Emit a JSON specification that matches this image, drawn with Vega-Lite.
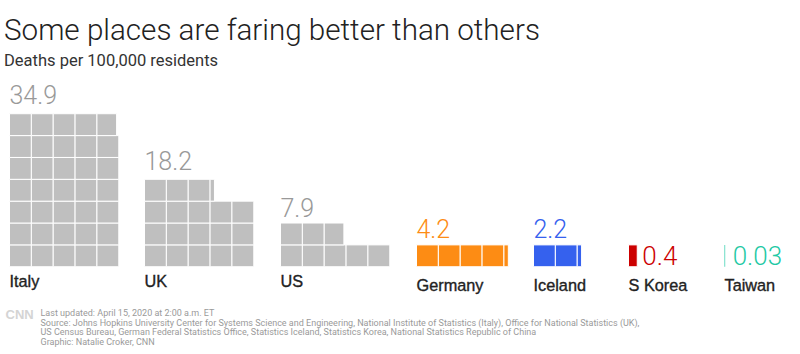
{
  "$schema": "https://vega.github.io/schema/vega-lite/v6.json",
  "background": "white",
  "padding": {"left": 3.5, "top": 15, "right": 0, "bottom": 0},
  "config": {"view": {"stroke": null}, "axis": {"disable": true}},
  "title": {
    "text": "Some places are faring better than others",
    "subtitle": "Deaths per 100,000 residents",
    "anchor": "start",
    "frame": "group",
    "font": "Roboto", "fontSize": 29.6, "fontWeight": 300, "color": "#222222",
    "subtitleFont": "Roboto", "subtitleFontSize": 16.5, "subtitleFontWeight": 400, "subtitleColor": "#333333",
    "subtitlePadding": 6, "offset": 0, "dx": -5.5
  },
  "datasets": {
    "cells": [
      {"country": "Italy", "row": 1, "col": 1, "share": 1}, {"country": "Italy", "row": 1, "col": 2, "share": 1}, {"country": "Italy", "row": 1, "col": 3, "share": 1}, {"country": "Italy", "row": 1, "col": 4, "share": 1}, {"country": "Italy", "row": 1, "col": 5, "share": 1},
      {"country": "Italy", "row": 2, "col": 1, "share": 1}, {"country": "Italy", "row": 2, "col": 2, "share": 1}, {"country": "Italy", "row": 2, "col": 3, "share": 1}, {"country": "Italy", "row": 2, "col": 4, "share": 1}, {"country": "Italy", "row": 2, "col": 5, "share": 1},
      {"country": "Italy", "row": 3, "col": 1, "share": 1}, {"country": "Italy", "row": 3, "col": 2, "share": 1}, {"country": "Italy", "row": 3, "col": 3, "share": 1}, {"country": "Italy", "row": 3, "col": 4, "share": 1}, {"country": "Italy", "row": 3, "col": 5, "share": 1},
      {"country": "Italy", "row": 4, "col": 1, "share": 1}, {"country": "Italy", "row": 4, "col": 2, "share": 1}, {"country": "Italy", "row": 4, "col": 3, "share": 1}, {"country": "Italy", "row": 4, "col": 4, "share": 1}, {"country": "Italy", "row": 4, "col": 5, "share": 1},
      {"country": "Italy", "row": 5, "col": 1, "share": 1}, {"country": "Italy", "row": 5, "col": 2, "share": 1}, {"country": "Italy", "row": 5, "col": 3, "share": 1}, {"country": "Italy", "row": 5, "col": 4, "share": 1}, {"country": "Italy", "row": 5, "col": 5, "share": 1},
      {"country": "Italy", "row": 6, "col": 1, "share": 1}, {"country": "Italy", "row": 6, "col": 2, "share": 1}, {"country": "Italy", "row": 6, "col": 3, "share": 1}, {"country": "Italy", "row": 6, "col": 4, "share": 1}, {"country": "Italy", "row": 6, "col": 5, "share": 1},
      {"country": "Italy", "row": 7, "col": 1, "share": 1}, {"country": "Italy", "row": 7, "col": 2, "share": 1}, {"country": "Italy", "row": 7, "col": 3, "share": 1}, {"country": "Italy", "row": 7, "col": 4, "share": 1}, {"country": "Italy", "row": 7, "col": 5, "share": 0.9},
      {"country": "UK", "row": 1, "col": 1, "share": 1}, {"country": "UK", "row": 1, "col": 2, "share": 1}, {"country": "UK", "row": 1, "col": 3, "share": 1}, {"country": "UK", "row": 1, "col": 4, "share": 1}, {"country": "UK", "row": 1, "col": 5, "share": 1},
      {"country": "UK", "row": 2, "col": 1, "share": 1}, {"country": "UK", "row": 2, "col": 2, "share": 1}, {"country": "UK", "row": 2, "col": 3, "share": 1}, {"country": "UK", "row": 2, "col": 4, "share": 1}, {"country": "UK", "row": 2, "col": 5, "share": 1},
      {"country": "UK", "row": 3, "col": 1, "share": 1}, {"country": "UK", "row": 3, "col": 2, "share": 1}, {"country": "UK", "row": 3, "col": 3, "share": 1}, {"country": "UK", "row": 3, "col": 4, "share": 1}, {"country": "UK", "row": 3, "col": 5, "share": 1},
      {"country": "UK", "row": 4, "col": 1, "share": 1}, {"country": "UK", "row": 4, "col": 2, "share": 1}, {"country": "UK", "row": 4, "col": 3, "share": 1}, {"country": "UK", "row": 4, "col": 4, "share": 0.2},
      {"country": "US", "row": 1, "col": 1, "share": 1}, {"country": "US", "row": 1, "col": 2, "share": 1}, {"country": "US", "row": 1, "col": 3, "share": 1}, {"country": "US", "row": 1, "col": 4, "share": 1}, {"country": "US", "row": 1, "col": 5, "share": 1},
      {"country": "US", "row": 2, "col": 1, "share": 1}, {"country": "US", "row": 2, "col": 2, "share": 1}, {"country": "US", "row": 2, "col": 3, "share": 0.9},
      {"country": "Germany", "row": 1, "col": 1, "share": 1}, {"country": "Germany", "row": 1, "col": 2, "share": 1}, {"country": "Germany", "row": 1, "col": 3, "share": 1}, {"country": "Germany", "row": 1, "col": 4, "share": 1}, {"country": "Germany", "row": 1, "col": 5, "share": 0.2},
      {"country": "Iceland", "row": 1, "col": 1, "share": 1}, {"country": "Iceland", "row": 1, "col": 2, "share": 1}, {"country": "Iceland", "row": 1, "col": 3, "share": 0.2},
      {"country": "S Korea", "row": 1, "col": 1, "share": 0.4},
      {"country": "Taiwan", "row": 1, "col": 1, "share": 0.03}
    ]
  },
  "vconcat": [
    {
      "title": {
        "text": [
          "Last updated: April 15, 2020 at 2:00 a.m. ET",
          "Source: Johns Hopkins University Center for Systems Science and Engineering, National Institute of Statistics (Italy), Office for National Statistics (UK),",
          "US Census Bureau, German Federal Statistics Office, Statistics Iceland, Statistics Korea, National Statistics Republic of China",
          "Graphic: Natalie Croker, CNN"
        ],
        "orient": "bottom", "anchor": "start", "frame": "group",
        "font": "Roboto", "fontSize": 9, "fontWeight": 400, "color": "#9a9a9a",
        "lineHeight": 9.8, "offset": -13, "dx": 31
      },
      "bounds": "flush",
      "spacing": 0,
      "resolve": {"scale": {"x": "independent", "y": "independent"}},
      "hconcat": [
        {
          "width": 135, "height": 196.74,
          "data": {"name": "cells"},
          "transform": [{"filter": "datum.country === 'Italy'"}],
          "layer": [
            {"mark": {"type": "bar", "color": "#bfbfbf", "stroke": "white", "strokeWidth": 1},
             "encoding": {
               "x": {"field": "share", "type": "quantitative", "stack": "zero", "scale": {"domain": [0, 6.1757], "nice": false}},
               "y": {"field": "row", "type": "ordinal", "scale": {"domain": [9, 8, 7, 6, 5, 4, 3, 2, 1], "paddingInner": 0, "paddingOuter": 0}},
               "detail": {"field": "col"}, "order": {"field": "col"}}},
            {"transform": [{"aggregate": [{"op": "max", "field": "row", "as": "row"}, {"op": "sum", "field": "share", "as": "value"}], "groupby": ["country"]}],
             "mark": {"type": "text", "align": "left", "baseline": "alphabetic", "dy": -20.6, "font": "Roboto", "fontWeight": 300, "fontSize": 25, "color": "#999999"},
             "encoding": {"x": {"datum": 0, "type": "quantitative"}, "y": {"field": "row", "type": "ordinal"}, "text": {"field": "value", "format": ".1f"}}},
            {"transform": [{"filter": "datum.row === 1 && datum.col === 1"}],
             "mark": {"type": "text", "align": "left", "baseline": "alphabetic", "dy": 31.5, "font": "Liberation Sans", "fontSize": 16.3, "color": "#222222", "stroke": "#222222", "strokeWidth": 0.35},
             "encoding": {"x": {"datum": 0, "type": "quantitative"}, "y": {"field": "row", "type": "ordinal"}, "text": {"field": "country"}}},
            {"transform": [{"filter": "datum.row === 1 && datum.col === 1"}],
             "mark": {"type": "text", "text": "CNN", "align": "left", "baseline": "alphabetic", "dy": 63, "font": "Liberation Sans", "fontWeight": "bold", "fontSize": 13, "color": "#d4d4d4"},
             "encoding": {"x": {"datum": -0.18, "type": "quantitative"}, "y": {"field": "row", "type": "ordinal"}}}
          ]
        },
        {
          "width": 136, "height": 196.74,
          "data": {"name": "cells"},
          "transform": [{"filter": "datum.country === 'UK'"}],
          "layer": [
            {"mark": {"type": "bar", "color": "#bfbfbf", "stroke": "white", "strokeWidth": 1},
             "encoding": {
               "x": {"field": "share", "type": "quantitative", "stack": "zero", "scale": {"domain": [0, 6.2214], "nice": false}},
               "y": {"field": "row", "type": "ordinal", "scale": {"domain": [9, 8, 7, 6, 5, 4, 3, 2, 1], "paddingInner": 0, "paddingOuter": 0}},
               "detail": {"field": "col"}, "order": {"field": "col"}}},
            {"transform": [{"aggregate": [{"op": "max", "field": "row", "as": "row"}, {"op": "sum", "field": "share", "as": "value"}], "groupby": ["country"]}],
             "mark": {"type": "text", "align": "left", "baseline": "alphabetic", "dy": -20.3, "font": "Roboto", "fontWeight": 300, "fontSize": 25, "color": "#999999"},
             "encoding": {"x": {"datum": 0, "type": "quantitative"}, "y": {"field": "row", "type": "ordinal"}, "text": {"field": "value", "format": ".1f"}}},
            {"transform": [{"filter": "datum.row === 1 && datum.col === 1"}],
             "mark": {"type": "text", "align": "left", "baseline": "alphabetic", "dy": 31.5, "font": "Liberation Sans", "fontSize": 16.3, "color": "#222222", "stroke": "#222222", "strokeWidth": 0.35},
             "encoding": {"x": {"datum": 0, "type": "quantitative"}, "y": {"field": "row", "type": "ordinal"}, "text": {"field": "country"}}}
          ]
        },
        {
          "width": 136, "height": 196.74,
          "data": {"name": "cells"},
          "transform": [{"filter": "datum.country === 'US'"}],
          "layer": [
            {"mark": {"type": "bar", "color": "#bfbfbf", "stroke": "white", "strokeWidth": 1},
             "encoding": {
               "x": {"field": "share", "type": "quantitative", "stack": "zero", "scale": {"domain": [0, 6.2214], "nice": false}},
               "y": {"field": "row", "type": "ordinal", "scale": {"domain": [9, 8, 7, 6, 5, 4, 3, 2, 1], "paddingInner": 0, "paddingOuter": 0}},
               "detail": {"field": "col"}, "order": {"field": "col"}}},
            {"transform": [{"aggregate": [{"op": "max", "field": "row", "as": "row"}, {"op": "sum", "field": "share", "as": "value"}], "groupby": ["country"]}],
             "mark": {"type": "text", "align": "left", "baseline": "alphabetic", "dy": -17.3, "font": "Roboto", "fontWeight": 300, "fontSize": 25, "color": "#999999"},
             "encoding": {"x": {"datum": 0, "type": "quantitative"}, "y": {"field": "row", "type": "ordinal"}, "text": {"field": "value", "format": ".1f"}}},
            {"transform": [{"filter": "datum.row === 1 && datum.col === 1"}],
             "mark": {"type": "text", "align": "left", "baseline": "alphabetic", "dy": 31.5, "font": "Liberation Sans", "fontSize": 16.3, "color": "#222222", "stroke": "#222222", "strokeWidth": 0.35},
             "encoding": {"x": {"datum": 0, "type": "quantitative"}, "y": {"field": "row", "type": "ordinal"}, "text": {"field": "country"}}}
          ]
        },
        {
          "width": 117, "height": 196.74,
          "data": {"name": "cells"},
          "transform": [{"filter": "datum.country === 'Germany'"}],
          "layer": [
            {"mark": {"type": "bar", "color": "#fd8c14", "stroke": "white", "strokeWidth": 1},
             "encoding": {
               "x": {"field": "share", "type": "quantitative", "stack": "zero", "scale": {"domain": [0, 5.3522], "nice": false}},
               "y": {"field": "row", "type": "ordinal", "scale": {"domain": [9, 8, 7, 6, 5, 4, 3, 2, 1], "paddingInner": 0, "paddingOuter": 0}},
               "detail": {"field": "col"}, "order": {"field": "col"}}},
            {"transform": [{"aggregate": [{"op": "max", "field": "row", "as": "row"}, {"op": "sum", "field": "share", "as": "value"}], "groupby": ["country"]}],
             "mark": {"type": "text", "align": "left", "baseline": "alphabetic", "dy": -18, "font": "Roboto", "fontWeight": 300, "fontSize": 25, "color": "#fd8c14"},
             "encoding": {"x": {"datum": 0, "type": "quantitative"}, "y": {"field": "row", "type": "ordinal"}, "text": {"field": "value", "format": ".1f"}}},
            {"transform": [{"filter": "datum.row === 1 && datum.col === 1"}],
             "mark": {"type": "text", "align": "left", "baseline": "alphabetic", "dy": 35.2, "font": "Liberation Sans", "fontSize": 16.3, "color": "#222222", "stroke": "#222222", "strokeWidth": 0.35},
             "encoding": {"x": {"datum": 0, "type": "quantitative"}, "y": {"field": "row", "type": "ordinal"}, "text": {"field": "country"}}}
          ]
        },
        {
          "width": 95, "height": 196.74,
          "data": {"name": "cells"},
          "transform": [{"filter": "datum.country === 'Iceland'"}],
          "layer": [
            {"mark": {"type": "bar", "color": "#3561ee", "stroke": "white", "strokeWidth": 1},
             "encoding": {
               "x": {"field": "share", "type": "quantitative", "stack": "zero", "scale": {"domain": [0, 4.3458], "nice": false}},
               "y": {"field": "row", "type": "ordinal", "scale": {"domain": [9, 8, 7, 6, 5, 4, 3, 2, 1], "paddingInner": 0, "paddingOuter": 0}},
               "detail": {"field": "col"}, "order": {"field": "col"}}},
            {"transform": [{"aggregate": [{"op": "max", "field": "row", "as": "row"}, {"op": "sum", "field": "share", "as": "value"}], "groupby": ["country"]}],
             "mark": {"type": "text", "align": "left", "baseline": "alphabetic", "dy": -17.6, "font": "Roboto", "fontWeight": 300, "fontSize": 25, "color": "#3561ee"},
             "encoding": {"x": {"datum": 0, "type": "quantitative"}, "y": {"field": "row", "type": "ordinal"}, "text": {"field": "value", "format": ".1f"}}},
            {"transform": [{"filter": "datum.row === 1 && datum.col === 1"}],
             "mark": {"type": "text", "align": "left", "baseline": "alphabetic", "dy": 35.2, "font": "Liberation Sans", "fontSize": 16.3, "color": "#222222", "stroke": "#222222", "strokeWidth": 0.35},
             "encoding": {"x": {"datum": 0, "type": "quantitative"}, "y": {"field": "row", "type": "ordinal"}, "text": {"field": "country"}}}
          ]
        },
        {
          "width": 96, "height": 196.74,
          "data": {"name": "cells"},
          "transform": [{"filter": "datum.country === 'S Korea'"}],
          "layer": [
            {"mark": {"type": "bar", "color": "#cc0000", "stroke": "white", "strokeWidth": 1},
             "encoding": {
               "x": {"field": "share", "type": "quantitative", "stack": "zero", "scale": {"domain": [0, 4.3916], "nice": false}},
               "y": {"field": "row", "type": "ordinal", "scale": {"domain": [9, 8, 7, 6, 5, 4, 3, 2, 1], "paddingInner": 0, "paddingOuter": 0}},
               "detail": {"field": "col"}, "order": {"field": "col"}}},
            {"transform": [{"aggregate": [{"op": "max", "field": "row", "as": "row"}, {"op": "sum", "field": "share", "as": "value"}], "groupby": ["country"]}],
             "mark": {"type": "text", "align": "left", "baseline": "alphabetic", "dx": 5, "dy": 9.5, "font": "Roboto", "fontWeight": 300, "fontSize": 26, "color": "#cc0000"},
             "encoding": {"x": {"field": "value", "type": "quantitative"}, "y": {"field": "row", "type": "ordinal"}, "text": {"field": "value", "format": ".1f"}}},
            {"transform": [{"filter": "datum.row === 1 && datum.col === 1"}],
             "mark": {"type": "text", "align": "left", "baseline": "alphabetic", "dy": 35.2, "font": "Liberation Sans", "fontSize": 16.3, "color": "#222222", "stroke": "#222222", "strokeWidth": 0.35},
             "encoding": {"x": {"datum": 0, "type": "quantitative"}, "y": {"field": "row", "type": "ordinal"}, "text": {"field": "country"}}}
          ]
        },
        {
          "width": 70, "height": 196.74,
          "data": {"name": "cells"},
          "transform": [{"filter": "datum.country === 'Taiwan'"}],
          "layer": [
            {"mark": {"type": "bar", "color": "#1fc9a5"},
             "encoding": {
               "x": {"field": "share", "type": "quantitative", "stack": "zero", "scale": {"domain": [0, 3.2022], "nice": false}},
               "y": {"field": "row", "type": "ordinal", "scale": {"domain": [9, 8, 7, 6, 5, 4, 3, 2, 1], "paddingInner": 0, "paddingOuter": 0}},
               "detail": {"field": "col"}, "order": {"field": "col"}}},
            {"transform": [{"aggregate": [{"op": "max", "field": "row", "as": "row"}, {"op": "sum", "field": "share", "as": "value"}], "groupby": ["country"]}],
             "mark": {"type": "text", "align": "left", "baseline": "alphabetic", "dx": 7.5, "dy": 9.5, "font": "Roboto", "fontWeight": 300, "fontSize": 26, "color": "#1fc9a5"},
             "encoding": {"x": {"field": "value", "type": "quantitative"}, "y": {"field": "row", "type": "ordinal"}, "text": {"field": "value", "format": ".2f"}}},
            {"transform": [{"filter": "datum.row === 1 && datum.col === 1"}],
             "mark": {"type": "text", "align": "left", "baseline": "alphabetic", "dy": 35.2, "font": "Liberation Sans", "fontSize": 16.3, "color": "#222222", "stroke": "#222222", "strokeWidth": 0.35},
             "encoding": {"x": {"datum": 0, "type": "quantitative"}, "y": {"field": "row", "type": "ordinal"}, "text": {"field": "country"}}}
          ]
        }
      ]
    }
  ]
}
